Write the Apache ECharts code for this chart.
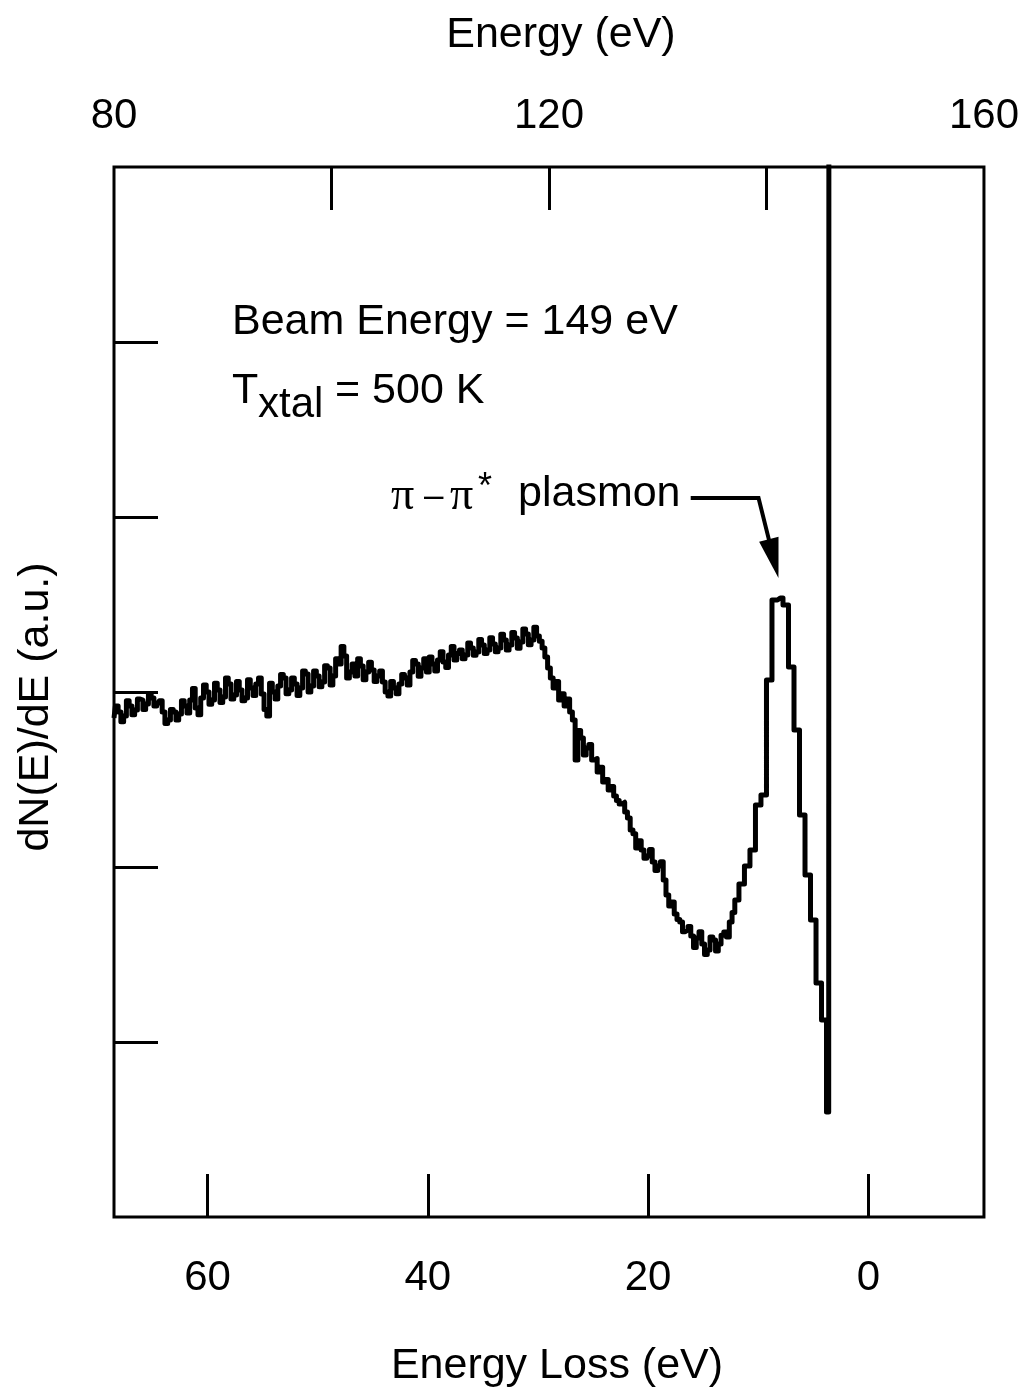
<!DOCTYPE html>
<html><head><meta charset="utf-8">
<script src="https://cdn.jsdelivr.net/npm/echarts@6/dist/echarts.min.js"></script>
<style>html,body{margin:0;padding:0;background:#fff}#c{width:1022px;height:1395px}</style>
</head><body><div id="c"></div>
<script>
// Energy loss (eV) sample positions
const lossEV = [
68.5,68.25,68,67.75,67.5,67.25,67,66.75,66.5,66.25,66,65.75,65.5,65.25,65,64.75,
64.5,64.25,64,63.75,63.5,63.25,63,62.75,62.5,62.25,62,61.75,61.5,61.25,61,60.75,
60.5,60.25,60,59.75,59.5,59.25,59,58.75,58.5,58.25,58,57.75,57.5,57.25,57,56.75,
56.5,56.25,56,55.75,55.5,55.25,55,54.75,54.5,54.25,54,53.75,53.5,53.25,53,52.75,
52.5,52.25,52,51.75,51.5,51.25,51,50.75,50.5,50.25,50,49.75,49.5,49.25,49,48.75,
48.5,48.25,48,47.75,47.5,47.25,47,46.75,46.5,46.25,46,45.75,45.5,45.25,45,44.75,
44.5,44.25,44,43.75,43.5,43.25,43,42.75,42.5,42.25,42,41.75,41.5,41.25,41,40.75,
40.5,40.25,40,39.75,39.5,39.25,39,38.75,38.5,38.25,38,37.75,37.5,37.25,37,36.75,
36.5,36.25,36,35.75,35.5,35.25,35,34.75,34.5,34.25,34,33.75,33.5,33.25,33,32.75,
32.5,32.25,32,31.75,31.5,31.25,31,30.75,30.5,30.25,30,29.75,29.5,29.25,29,28.75,
28.5,28.25,28,27.75,27.5,27.25,27,26.75,26.5,26.25,26,25.75,25.5,25.25,25,24.75,
24.5,24.25,24,23.75,23.5,23.25,23,22.75,22.5,22.25,22,21.75,21.5,21.25,21,20.75,
20.5,20.25,20,19.75,19.5,19.25,19,18.75,18.5,18.25,18,17.75,17.5,17.25,17,16.75,
16.5,16.25,16,15.75,15.5,15.25,15,14.75,14.5,14.25,14,13.75,13.5,13.25,13,12.75,
12.5,12.25,12,11.5,11,10.5,10,9.5,9,8.5,8,7.5,7,6.5,6,5.5,5,4.5,4,3.6,3.55];
// dN(E)/dE (arbitrary units)
const intensity = [
2.851,2.92,2.886,2.83,2.863,2.95,2.920,2.87,2.897,2.96,2.954,2.90,2.931,2.99,2.966,2.92,
2.937,2.95,2.886,2.82,2.840,2.90,2.886,2.84,2.874,2.95,2.920,2.88,2.954,3.02,2.909,2.87,
2.966,3.04,3.000,2.93,2.954,3.05,3.011,2.94,2.971,3.08,3.046,2.96,2.983,3.06,3.011,2.95,
2.966,3.07,3.023,2.98,3.046,3.08,2.989,2.90,2.863,3.05,3.000,2.96,3.034,3.10,3.080,2.99,
3.011,3.08,3.046,2.98,3.023,3.12,3.103,3.00,3.034,3.12,3.091,3.03,3.057,3.15,3.137,3.04,
3.091,3.19,3.160,3.26,3.206,3.08,3.114,3.16,3.091,3.19,3.149,3.07,3.114,3.17,3.126,3.06,
3.091,3.12,3.057,3.00,2.977,3.06,3.023,2.99,3.046,3.10,3.080,3.04,3.114,3.18,3.160,3.09,
3.137,3.19,3.114,3.20,3.160,3.12,3.183,3.23,3.171,3.14,3.211,3.26,3.183,3.22,3.240,3.19,
3.211,3.28,3.251,3.21,3.229,3.30,3.269,3.22,3.240,3.31,3.274,3.23,3.251,3.33,3.297,3.24,
3.269,3.34,3.309,3.25,3.286,3.36,3.331,3.27,3.297,3.37,3.320,3.29,3.251,3.20,3.137,3.08,
3.023,3.06,2.954,2.99,2.920,2.96,2.886,2.84,2.611,2.78,2.737,2.64,2.680,2.70,2.611,2.62,
2.543,2.57,2.486,2.50,2.440,2.46,2.406,2.38,2.360,2.37,2.314,2.28,2.211,2.19,2.109,2.15,
2.097,2.05,2.063,2.10,2.029,1.98,2.006,2.03,1.926,1.84,1.777,1.80,1.731,1.70,1.686,1.63,
1.640,1.66,1.606,1.54,1.594,1.63,1.560,1.50,1.526,1.60,1.583,1.52,1.560,1.61,1.629,1.60,
1.686,1.74,1.811,1.903,2.006,2.097,2.354,2.411,3.069,3.526,3.537,3.497,3.143,2.783,2.297,1.954,1.697,1.337,1.126,0.600,9.0];

const lossTicks = [0,20,40,60];
const energyTicks = [100,120,140];
const energyLabels = [80,120,160];
const yTicks = [1,2,3,4,5];

const FONT = 'Liberation Sans, Arial, Helvetica, sans-serif';
const SERIF = 'Liberation Serif, Times New Roman, serif';

const chart = echarts.init(document.getElementById('c'), null, {renderer:'canvas'});
const tickStyle = {color:'#000', width:3};
chart.setOption({
  backgroundColor:'#fff',
  animation:false,
  grid:{left:114, right:36, top:167, bottom:178, show:true, borderColor:'#000', borderWidth:3, backgroundColor:'transparent'},
  xAxis:[
    {type:'value', position:'bottom', inverse:true, min:-10.5, max:68.5,
     name:'Energy Loss (eV)', nameLocation:'middle', nameGap:128,
     nameTextStyle:{fontSize:43, color:'#000', fontFamily:FONT, padding:[0,0,0,16]},
     axisLine:{show:false, onZero:false},
     axisTick:{show:true, inside:true, length:43, lineStyle:tickStyle, customValues:lossTicks},
     axisLabel:{show:true, customValues:lossTicks, fontSize:42, color:'#000', fontFamily:FONT, margin:40},
     splitLine:{show:false}},
    {type:'value', position:'top', min:80, max:160,
     name:'Energy (eV)', nameLocation:'middle', nameGap:110,
     nameTextStyle:{fontSize:43, color:'#000', fontFamily:FONT, padding:[0,0,0,24]},
     axisLine:{show:false, onZero:false},
     axisTick:{show:true, inside:true, length:43, lineStyle:tickStyle, customValues:energyTicks},
     axisLabel:{show:true, customValues:energyLabels, showMinLabel:true, showMaxLabel:true, fontSize:42, color:'#000', fontFamily:FONT, margin:30},
     splitLine:{show:false}}
  ],
  yAxis:[
    {type:'value', min:0, max:6, position:'left',
     name:'dN(E)/dE (a.u.)', nameLocation:'middle', nameGap:56, nameRotate:90,
     nameTextStyle:{fontSize:43, color:'#000', fontFamily:FONT, padding:[0,30,0,0]},
     axisLine:{show:false, onZero:false},
     axisTick:{show:true, inside:true, length:44, lineStyle:tickStyle, customValues:yTicks},
     axisLabel:{show:false},
     splitLine:{show:false}}
  ],
  series:[{
    type:'line', xAxisIndex:0, yAxisIndex:0,
    data: lossEV.map((x,i)=>[x, intensity[i]]),
    showSymbol:false, clip:true, step:'middle',
    lineStyle:{color:'#000', width:5, join:'round'}
  }]
});

// annotation arrow, anchored in data coordinates (loss, intensity)
const arrowPts = [[16.13,4.109],[9.97,4.109],[8.16,3.651]];
const P = arrowPts.map(p => chart.convertToPixel({xAxisIndex:0, yAxisIndex:0}, p));
const tip = P[2], from = P[1];
const dx = tip[0]-from[0], dy = tip[1]-from[1], L = Math.hypot(dx,dy);
const ux = dx/L, uy = dy/L, hl = 40, hw = 10;
const bx = tip[0]-ux*hl, by = tip[1]-uy*hl;
const shaftEnd = [tip[0]-ux*(hl-4), tip[1]-uy*(hl-4)];

const txt = (x,y,text,size,family) => ({type:'text', x:x, y:y,
  style:{text:text, fontSize:size, fontFamily:family||FONT, fill:'#000', textVerticalAlign:'middle', textAlign:'left'}});

chart.setOption({graphic:[
  txt(232,322,'Beam Energy = 149 eV',43),
  txt(232,391,'T',43),
  txt(258,405,'xtal',42),
  txt(335,391,'= 500 K',43),
  txt(391,497,'\u03c0',46,SERIF),
  txt(424,497,'\u2013',35),
  txt(450,497,'\u03c0',46,SERIF),
  txt(478,488,'*',36),
  txt(518,494,'plasmon',43),
  {type:'polyline', shape:{points:[P[0],P[1],shaftEnd]}, style:{stroke:'#000', lineWidth:4, fill:null}},
  {type:'polygon', shape:{points:[tip,[bx-uy*hw, by+ux*hw],[bx+uy*hw, by-ux*hw]]}, style:{fill:'#000'}}
]});
</script></body></html>
